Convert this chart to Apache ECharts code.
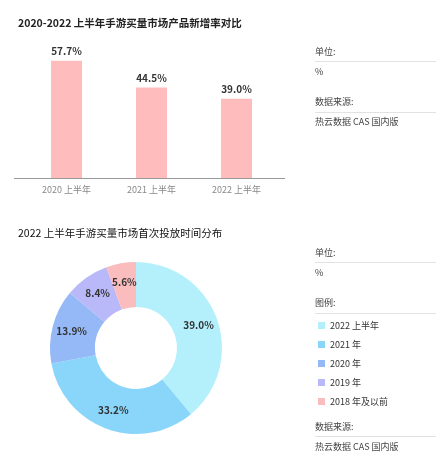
<!DOCTYPE html>
<html>
<head>
<meta charset="utf-8">
<script src="https://cdn.jsdelivr.net/npm/echarts@6/dist/echarts.min.js"></script>
<style>
  html, body { margin: 0; padding: 0; background: #fff; }
  #main { width: 446px; height: 459px; }
</style>
</head>
<body>
<div id="main"></div>
<script>
// 新增率对比
var barCategories = ['2020 上半年', '2021 上半年', '2022 上半年'];
var barValues = [57.7, 44.5, 39.0];

// 首次投放时间分布
var pieNames = ['2022 上半年', '2021 年', '2020 年', '2019 年', '2018 年及以前'];
var pieValues = [39.0, 33.2, 13.9, 8.4, 5.6];
var pieColors = ['#b3f0fc', '#8ad6fa', '#94b9f6', '#b9b8f8', '#fbbcbe'];

var font = 'Noto Sans CJK SC';

// 右侧说明文字
function sideText(y, text) {
    return { type: 'text', left: 315, top: y, style: { text: text, fontSize: 9, fill: '#444', fontFamily: font } };
}
function sideLine(y) {
    return { type: 'line', shape: { x1: 315, y1: y, x2: 436, y2: y }, style: { stroke: '#e2e2e2', lineWidth: 1 } };
}

var option = {
    textStyle: { fontFamily: font },
    title: [
        {
            text: '2020-2022 上半年手游买量市场产品新增率对比',
            left: 13, top: 13,
            textStyle: { fontSize: 10.5, fontWeight: 'bold', color: '#222', fontFamily: font }
        },
        {
            text: '2022 上半年手游买量市场首次投放时间分布',
            left: 13, top: 223,
            textStyle: { fontSize: 10.5, fontWeight: 'normal', color: '#111', fontFamily: font }
        }
    ],
    grid: { left: 24, right: 167, top: 56, bottom: 281 },
    xAxis: {
        type: 'category',
        data: barCategories,
        axisLine: { show: false },
        axisTick: { show: false },
        axisLabel: { color: '#888', fontSize: 9, margin: 7 }
    },
    yAxis: {
        type: 'value',
        min: 0,
        max: 60,
        show: false,
        splitLine: { show: false }
    },
    legend: {
        orient: 'vertical',
        left: 313,
        top: 316,
        icon: 'rect',
        itemWidth: 7,
        itemHeight: 7,
        itemGap: 10,
        selectedMode: false,
        textStyle: { fontSize: 9, color: '#333', fontFamily: font },
        data: pieNames
    },
    series: [
        {
            type: 'bar',
            data: barValues,
            barWidth: 31,
            itemStyle: { color: '#ffbcbc' },
            label: {
                show: true,
                position: 'top',
                distance: 4,
                fontSize: 10,
                fontWeight: 'bold',
                color: '#333',
                formatter: function (p) { return p.value.toFixed(1) + '%'; }
            }
        },
        {
            type: 'pie',
            center: [136, 348],
            radius: [41, 86],
            startAngle: 90,
            clockwise: true,
            color: pieColors,
            data: pieNames.map(function (n, i) { return { name: n, value: pieValues[i] }; }),
            label: {
                show: true,
                position: 'inside',
                fontSize: 10,
                fontWeight: 'bold',
                color: '#333',
                formatter: function (p) { return p.value.toFixed(1) + '%'; }
            },
            labelLine: { show: false },
            emphasis: { disabled: true }
        }
    ],
    graphic: [
        { type: 'line', shape: { x1: 14, y1: 178.5, x2: 285, y2: 178.5 }, style: { stroke: '#999', lineWidth: 1 } },
        sideText(47, '单位:'), sideLine(61.5), sideText(67, '%'),
        sideText(97, '数据来源:'), sideLine(112.5), sideText(117, '热云数据 CAS 国内版'),
        sideText(248, '单位:'), sideLine(262.5), sideText(268, '%'),
        sideText(298, '图例:'), sideLine(313.5),
        sideText(422, '数据来源:'), sideLine(436.5), sideText(442, '热云数据 CAS 国内版')
    ]
};

var chart = echarts.init(document.getElementById('main'));
chart.setOption(option);
</script>
</body>
</html>
